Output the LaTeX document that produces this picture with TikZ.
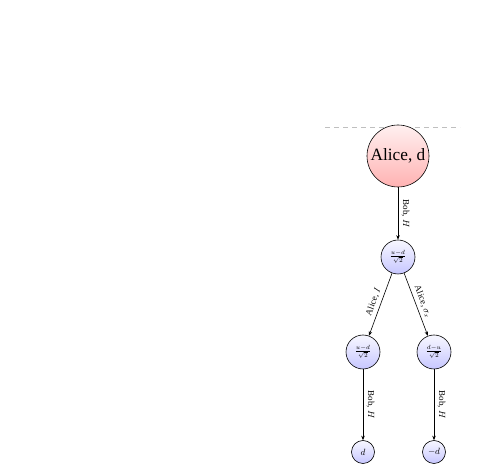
\documentclass[tikz,border=0pt]{standalone}
\usepackage{fontspec}
\setmainfont{Liberation Serif}
\usetikzlibrary{arrows.meta}
\tikzset{
  state/.style={circle, draw, line width=0.6pt, inner sep=0pt},
  rootstate/.style={state, minimum size=62pt, top color=red!6, bottom color=red!30, font=\LARGE},
  midstate/.style={state, minimum size=34pt, top color=blue!3, bottom color=blue!22, font=\footnotesize},
  leafstate/.style={state, minimum size=23pt, top color=blue!3, bottom color=blue!22, font=\small},
  move/.style={-{Stealth[length=4.5pt,width=3.5pt]}, line width=0.6pt},
  movelabel/.style={font=\small}
}
\begin{document}
\begin{tikzpicture}[x=1pt,y=1pt]
    \useasboundingbox (0,0) rectangle (488,466);
    \draw[gray!50, dashed, dash pattern=on 5pt off 4pt] (325,339)--(460,339);
    \node[rootstate] (root) at (398,310) {Alice, d};
    \node[midstate] (bob) at (398,209) {$\frac{u-d}{\sqrt{2}}$};
    \node[midstate] (ai) at (363,114) {$\frac{u-d}{\sqrt{2}}$};
    \node[midstate] (ax) at (434,114) {$\frac{d-u}{\sqrt{2}}$};
    \node[leafstate] (li) at (363,14) {$d$};
    \node[leafstate] (lx) at (434,14) {$-d$};
    \draw[move] (root)--(bob) node[movelabel, midway, rotate=-90, anchor=south] {Bob, $H$};
    \draw[move] (bob)--(ai) node[movelabel, midway, sloped, above] {Alice, $I$};
    \draw[move] (bob)--(ax) node[movelabel, midway, sloped, above] {Alice, $\sigma_x$};
    \draw[move] (ai)--(li) node[movelabel, midway, rotate=-90, anchor=south] {Bob, $H$};
    \draw[move] (ax)--(lx) node[movelabel, midway, rotate=-90, anchor=south] {Bob, $H$};
  \end{tikzpicture}
\end{document}
